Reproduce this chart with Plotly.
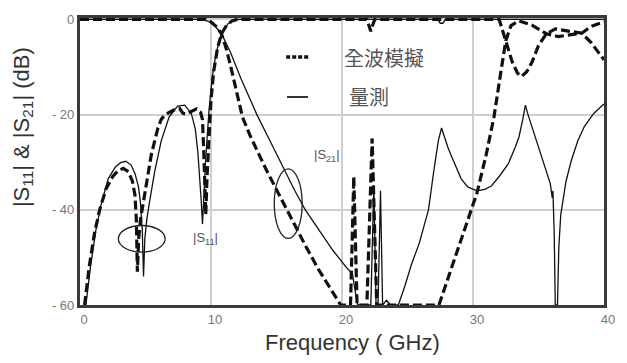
import plotly.graph_objects as go

# ---- measured / simulated S-parameters (frequency in GHz, magnitude in dB) ----
s11_sim_f = [0.35, 0.7, 1.1, 1.5, 2.0, 2.5, 2.9, 3.3, 3.7, 4.0, 4.2, 4.3, 4.38, 4.48, 4.62, 4.8,
             5.07, 5.45, 5.95, 6.2, 6.5, 7.2, 7.6, 7.85, 8.1, 8.5, 8.9, 9.2, 9.35, 9.45, 9.55,
             9.6, 9.7, 9.85, 10.0, 10.2, 10.5, 10.8, 11.2, 11.6, 12.0, 21.9, 22.1, 22.2, 22.3,
             22.5, 32.0, 32.5, 33.0, 33.4, 33.7, 34.1, 34.5, 35.0, 35.6, 36.3, 37.3, 38.3, 39.0, 40.0]
s11_sim_db = [-60, -52, -45, -40, -35.5, -33, -31.8, -31.3, -32, -34, -37, -42, -53, -46, -42, -39,
              -34.4, -28.3, -22.8, -21, -20, -19, -18.7, -19.7, -19.9, -19.4, -18.8, -19.5, -21, -28, -36,
              -41, -33, -24, -17, -11, -6, -3, -1.2, -0.3, 0, 0, -1.5, -2.5, -1.5,
              0, 0, -4.5, -9, -11.3, -12, -11, -9, -5.5, -3, -2, -2.4, -2.9, -4.8, -8.5]

s21_sim_f = [0, 9.6, 10.0, 10.4, 10.8, 11.2, 11.6, 12.0, 12.4, 13.0, 13.5, 14.2, 14.95, 15.7, 16.5,
             17.3, 18.2, 19.0, 19.9, 20.65, 20.9, 21.15, 21.9, 22.3, 22.65, 27.4, 28.5, 29.5, 30.3,
             31.0, 31.6, 32.1, 32.5, 32.9, 33.5, 34.5, 35.6, 36.5, 37.5, 38.3, 39.0, 40.0]
s21_sim_db = [0, 0, -0.5, -1.5, -3, -6.5, -11, -16, -20.5, -24.5, -27.5, -31.5, -35.5, -39.5, -44,
              -48, -52.5, -56, -60, -60, -33, -60, -60, -25, -60, -60, -51, -43, -36.5,
              -28.5, -20.5, -11.5, -4.5, -1.3, -0.3, -1.2, -3, -3.6, -3.3, -2.9, -1.5, -0.5]

s11_meas_f = [0.45, 0.8, 1.2, 1.6, 2.15, 2.7, 3.1, 3.5, 3.9, 4.2, 4.45, 4.6, 4.75, 4.85, 4.95, 5.1,
              5.3, 5.7, 6.2, 6.8, 7.45, 8.0, 8.5, 8.8, 9.0, 9.15, 9.25, 9.35, 9.45, 9.6, 9.85,
              10.1, 10.4, 10.8, 11.3, 11.8, 12.2, 27.3, 27.5, 27.7, 27.9, 40.0]
s11_meas_db = [-60, -52, -44.5, -39, -33.5, -31, -30.1, -29.8, -30.6, -32.4, -35, -38, -44, -54, -46, -42,
               -38.5, -32, -25.5, -20.5, -18.2, -18, -19.8, -23, -28, -33, -38, -43, -37, -29, -19,
               -12, -7, -3, -0.9, -0.1, 0, 0, -0.8, -0.8, 0, 0]

s21_meas_f = [0, 9.3, 9.8, 10.3, 10.8, 11.5, 12.3, 13.0, 13.5, 14.5, 15.5, 16.4, 17.2, 18.2, 19.3,
              20.3, 20.8, 21.0, 21.2, 22.2, 22.43, 22.6, 22.75, 22.94, 23.1, 23.4, 23.7, 24.3, 24.8,
              25.3, 25.9, 26.3, 26.6, 27.0, 27.35, 27.6, 27.85, 28.1, 28.4, 28.8, 29.1, 29.6, 30.3,
              30.9, 31.4, 32.0, 32.7, 33.2, 33.5, 33.8, 34.0, 34.2, 34.6, 35.0, 35.5, 35.9, 36.05,
              36.1, 36.2, 36.28, 36.45, 36.55, 36.7, 37.1, 37.5, 38.0, 38.5, 39.2, 39.9, 40.0]
s21_meas_db = [0, 0, -0.4, -1.4, -3, -7, -12.5, -17, -20, -25.5, -31, -36, -40, -44, -48.5,
               -52, -53.5, -57, -60, -60, -35, -60, -60, -36, -60, -59, -60, -60, -56,
               -51.5, -47, -43, -40, -32, -25.5, -22.8, -25, -27, -29, -31.8, -33.5, -35.2, -36,
               -35.7, -35, -33, -30.3, -27, -24.8, -21, -18, -20, -23.5, -26.8, -31, -34.5, -37.5,
               -36, -45, -60, -60, -48, -41, -34, -29.7, -25.5, -22.5, -19.8, -18, -17.8]

x_ticks = [0, 10, 20, 30, 40]
x_tick_text = ["0", "10", "20", "30", "40"]
y_ticks = [0, -20, -40, -60]
y_tick_text = ["0", "- 20", "- 40", "- 60"]

LINE = "#111111"
DASH_SIM = "9px,4px"

fig = go.Figure()
fig.add_trace(go.Scatter(x=s11_meas_f, y=s11_meas_db, mode="lines",
                         line=dict(color=LINE, width=1.3), showlegend=False))
fig.add_trace(go.Scatter(x=s21_meas_f, y=s21_meas_db, mode="lines",
                         line=dict(color=LINE, width=1.3), showlegend=False))
fig.add_trace(go.Scatter(x=s11_sim_f, y=s11_sim_db, mode="lines",
                         line=dict(color=LINE, width=3.2, dash=DASH_SIM), showlegend=False))
fig.add_trace(go.Scatter(x=s21_sim_f, y=s21_sim_db, mode="lines",
                         line=dict(color=LINE, width=3.2, dash=DASH_SIM), showlegend=False))

# legend samples (drawn by hand next to the Chinese captions)
shapes = [
    dict(type="line", xref="x", yref="y", x0=15.74, x1=17.49, y0=-7.9, y1=-7.9,
         line=dict(color=LINE, width=3.5, dash="4px,2px")),
    dict(type="line", xref="x", yref="y", x0=15.8, x1=17.4, y0=-16.3, y1=-16.3,
         line=dict(color="#333", width=2)),
    # ellipses marking the |S11| and |S21| groups
    dict(type="circle", xref="x", yref="y", x0=2.93, x1=6.5, y0=-43.3, y1=-48.9,
         line=dict(color="#222", width=1.3)),
    dict(type="circle", xref="x", yref="y", x0=14.83, x1=16.96, y0=-31.4, y1=-46.0,
         line=dict(color="#222", width=1.3)),
]

cjk = "Noto Sans CJK TC"
annotations = [
    dict(x=20.0, y=-7.9, xref="x", yref="y", text="全波模擬", showarrow=False,
         xanchor="left", yanchor="middle", font=dict(family=cjk, size=20, color="#555")),
    dict(x=20.38, y=-16.2, xref="x", yref="y", text="量測", showarrow=False,
         xanchor="left", yanchor="middle", font=dict(family=cjk, size=20, color="#555")),
    dict(x=9.58, y=-46.0, xref="x", yref="y", text="|S<sub>11</sub>|", showarrow=False,
         xanchor="center", yanchor="middle",
         font=dict(family="Liberation Sans", size=13, color="#555")),
    dict(x=18.86, y=-28.5, xref="x", yref="y", text="|S<sub>21</sub>|", showarrow=False,
         xanchor="center", yanchor="middle",
         font=dict(family="Liberation Sans", size=13, color="#555")),
    # axis titles
    dict(x=0.5, y=-0.13, xref="paper", yref="paper", text="Frequency ( GHz)", showarrow=False,
         xanchor="center", yanchor="middle", xshift=10,
         font=dict(family="Liberation Sans", size=22, color="#333")),
    dict(x=-0.11, y=0.52, xref="paper", yref="paper",
         text="|S<sub>11</sub>| &amp; |S<sub>21</sub>| (dB)", showarrow=False, textangle=-90,
         xanchor="center", yanchor="middle", yshift=29,
         font=dict(family="Liberation Sans", size=22, color="#333")),
]

fig.update_layout(
    width=627, height=363,
    margin=dict(l=80, r=21, t=12, b=58),
    paper_bgcolor="white", plot_bgcolor="white",
    shapes=shapes, annotations=annotations,
    showlegend=False,
    xaxis=dict(range=[0, 40], tickvals=x_ticks, ticktext=x_tick_text,
               showgrid=True, gridcolor="#cfcfcf", gridwidth=1.5, zeroline=False,
               showline=True, linecolor="#3a3a3a", linewidth=3.2, mirror=True, ticks="",
               ticklabelshift=4,
               tickfont=dict(family="Liberation Sans", size=13, color="#777")),
    yaxis=dict(range=[-60, 0.3], tickvals=y_ticks, ticktext=y_tick_text,
               showgrid=True, gridcolor="#cfcfcf", gridwidth=1.5, zeroline=False,
               showline=True, linecolor="#3a3a3a", linewidth=3.2, mirror=True, ticks="",
               tickfont=dict(family="Liberation Sans", size=13, color="#777")),
)

fig.write_html("out.html")
